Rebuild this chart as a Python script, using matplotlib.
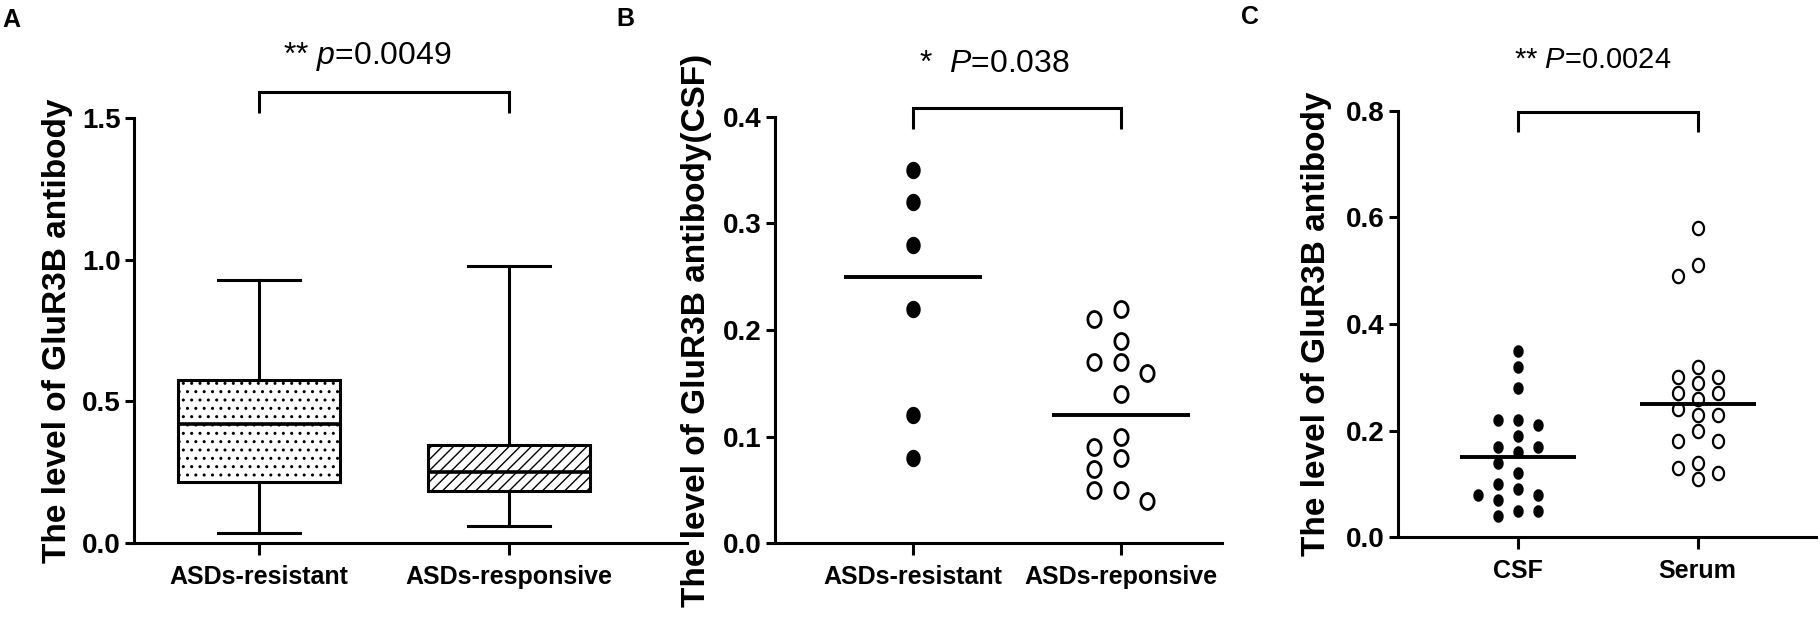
import numpy as np
import matplotlib
matplotlib.use('Agg')
import matplotlib.pyplot as plt
from matplotlib import font_manager as fm
from matplotlib.path import Path
from matplotlib.ticker import FormatStrFormatter, MultipleLocator

# ---------------- data ----------------
a_categories = ['ASDs-resistant', 'ASDs-responsive']
a_whislo = [0.037, 0.06]
a_q1 = [0.215, 0.185]
a_med = [0.42, 0.25]
a_q3 = [0.575, 0.345]
a_whishi = [0.93, 0.98]
a_pvalue = '0.0049'

b_categories = ['ASDs-resistant', 'ASDs-reponsive']
b_resistant = [0.35, 0.32, 0.28, 0.22, 0.12, 0.08]
b_reponsive = [0.22, 0.21, 0.19, 0.17, 0.17, 0.16, 0.14, 0.10, 0.09, 0.08,
               0.07, 0.05, 0.05, 0.04]
b_pvalue = '0.038'

c_categories = ['CSF', 'Serum']
c_csf = [0.35, 0.32, 0.28, 0.22, 0.22, 0.21, 0.19, 0.17, 0.17, 0.16, 0.14,
         0.12, 0.10, 0.09, 0.08, 0.08, 0.07, 0.05, 0.05, 0.04]
c_serum = [0.58, 0.51, 0.49, 0.32, 0.30, 0.30, 0.29, 0.27, 0.27, 0.26, 0.24,
           0.23, 0.23, 0.20, 0.18, 0.18, 0.14, 0.13, 0.12, 0.11]
c_pvalue = '0.0024'

# ---------------- style ----------------
names = {f.name for f in fm.fontManager.ttflist}
NARROW = 'Liberation Sans Narrow' in names
tick_family = ['Liberation Sans Narrow'] if NARROW else ['Liberation Sans']
ytick_size = 23 if NARROW else 20
xtick_size = 21 if NARROW else 18
plt.rcParams['font.family'] = ['Liberation Sans', 'DejaVu Sans']
plt.rcParams['mathtext.fontset'] = 'custom'
plt.rcParams['mathtext.rm'] = 'Liberation Sans'
plt.rcParams['mathtext.it'] = 'Liberation Sans:italic'
plt.rcParams['hatch.linewidth'] = 1.0
LW = 2.2

W, H = 1820, 625
fig = plt.figure(figsize=(W / 100, H / 100), dpi=100)


def px_rect(x0, x1, ytop, ybot):
    return [x0 / W, 1 - ybot / H, (x1 - x0) / W, (ybot - ytop) / H]


def style_axes(ax, ymax, ystep, cats, label, label_x):
    for s in ['top', 'right']:
        ax.spines[s].set_visible(False)
    for s in ['left', 'bottom']:
        ax.spines[s].set_linewidth(LW)
    ax.set_ylim(0, ymax)
    ax.yaxis.set_major_locator(MultipleLocator(ystep))
    ax.yaxis.set_major_formatter(FormatStrFormatter('%.1f'))
    ax.tick_params(axis='y', direction='out', length=6.5, width=LW, pad=3)
    ax.tick_params(axis='x', direction='out', length=8.5, width=LW, pad=7)
    ax.set_xticks(range(len(cats)))
    ax.set_xticklabels(cats)
    for tl in ax.get_yticklabels():
        tl.set_family(tick_family)
        tl.set_fontsize(ytick_size)
        tl.set_fontweight('bold')
    for tl in ax.get_xticklabels():
        tl.set_family(tick_family)
        tl.set_fontsize(xtick_size)
        tl.set_fontweight('bold')
    ax.set_ylabel(label, fontsize=24, fontweight='bold', family=['Liberation Sans'])
    ax.yaxis.set_label_coords(label_x, 0.5)


def bracket(ax, y_lo, y_hi, text, tx, ty, size):
    ax.plot([0, 0, 1, 1], [y_lo, y_hi, y_hi, y_lo], color='black', lw=LW,
            clip_on=False, solid_capstyle='butt', solid_joinstyle='miter')
    ax.text(tx, ty, text, ha='center', va='center', fontsize=size, clip_on=False)


t = np.linspace(0, 2 * np.pi, 73)
ellipse = Path(np.column_stack([0.83 * np.cos(t), np.sin(t)]), closed=True)


def swarm_x(ax, x0, values, step_px, h_px):
    vals = np.asarray(values, dtype=float)
    ys = np.array([ax.transData.transform((x0, v))[1] for v in vals])
    xs0 = ax.transData.transform((x0, 0))[0]
    order = np.argsort(-vals, kind='stable')
    ks = np.zeros(len(vals))
    placed = []
    for i in order:
        for k in [0, -1, 1, -2, 2, -3, 3]:
            if all(not (pk == k and abs(py - ys[i]) < h_px) for pk, py in placed):
                break
        placed.append((k, ys[i]))
        ks[i] = k
    inv = ax.transData.inverted()
    return [inv.transform((xs0 + k * step_px, ys[i]))[0] for i, k in enumerate(ks)]


# ---------------- panel A ----------------
axA = fig.add_axes(px_rect(134, 687, 118.4, 543))
axA.set_xlim(-0.5, 1.712)
stats = [dict(med=a_med[i], q1=a_q1[i], q3=a_q3[i], whislo=a_whislo[i],
              whishi=a_whishi[i], fliers=[], label=a_categories[i])
         for i in range(len(a_categories))]
bp = axA.bxp(stats, positions=range(len(stats)), widths=0.65, capwidths=0.33,
             patch_artist=True, showfliers=False,
             boxprops=dict(facecolor='white', edgecolor='black', linewidth=LW),
             medianprops=dict(color='black', linewidth=2.6),
             whiskerprops=dict(color='black', linewidth=LW),
             capprops=dict(color='black', linewidth=LW))
for box, h in zip(bp['boxes'], ['..', '///']):
    box.set_hatch(h)
style_axes(axA, 1.5, 0.5, a_categories, 'The level of GluR3B antibody', -0.111)
axA.set_xlim(-0.5, 1.712)
bracket(axA, 1.52, 1.594, r'** $\mathit{p}$=' + a_pvalue, 0.432, 1.72, 23)

# ---------------- panel B ----------------
axB = fig.add_axes(px_rect(775, 1222, 116.7, 543.3))
style_axes(axB, 0.4, 0.1, b_categories, 'The level of GluR3B antibody(CSF)', -0.141)
axB.set_xlim(-0.663, 1.486)
for i, (vals, filled) in enumerate([(b_resistant, True), (b_reponsive, False)]):
    xs = swarm_x(axB, i, vals, 26.5, 17.0)
    if filled:
        axB.plot(xs, vals, ls='none', marker=ellipse, ms=12.5, mfc='black',
                 mec='black', mew=0, clip_on=False)
    else:
        axB.plot(xs, vals, ls='none', marker=ellipse, ms=11.5, mfc='white',
                 mec='black', mew=2.0, clip_on=False)
    m = np.median(vals)
    axB.plot([i - 0.33, i + 0.33], [m, m], color='black', lw=2.8,
             solid_capstyle='butt')
bracket(axB, 0.388, 0.408, r'*  $\mathit{P}$=' + b_pvalue, 0.39, 0.4496, 23)

# ---------------- panel C ----------------
axC = fig.add_axes(px_rect(1397.7, 1816, 110.8, 537.3))
style_axes(axC, 0.8, 0.2, c_categories, 'The level of GluR3B antibody', -0.156)
axC.set_xlim(-0.666, 1.658)
for i, (vals, filled) in enumerate([(c_csf, True), (c_serum, False)]):
    if filled:
        xs = swarm_x(axC, i, vals, 20, 12.0)
        axC.plot(xs, vals, ls='none', marker=ellipse, ms=9.0, mfc='black',
                 mec='black', mew=0, clip_on=False)
    else:
        xs = swarm_x(axC, i, vals, 20, 15.0)
        axC.plot(xs, vals, ls='none', marker=ellipse, ms=9.6, mfc='white',
                 mec='black', mew=1.6, clip_on=False)
    m = np.median(vals)
    axC.plot([i - 0.322, i + 0.322], [m, m], color='black', lw=2.8,
             solid_capstyle='butt')
bracket(axC, 0.761, 0.7985, r'** $\mathit{P}$=' + c_pvalue, 0.417, 0.896, 21)

# ---------------- panel letters ----------------
for lab, x, y in [('A', 2, 8), ('B', 616, 7), ('C', 1241, 5)]:
    fig.text(x / W, 1 - y / H, lab, fontsize=18, fontweight='bold',
             ha='left', va='top')

fig.savefig('out.png', dpi=100)
